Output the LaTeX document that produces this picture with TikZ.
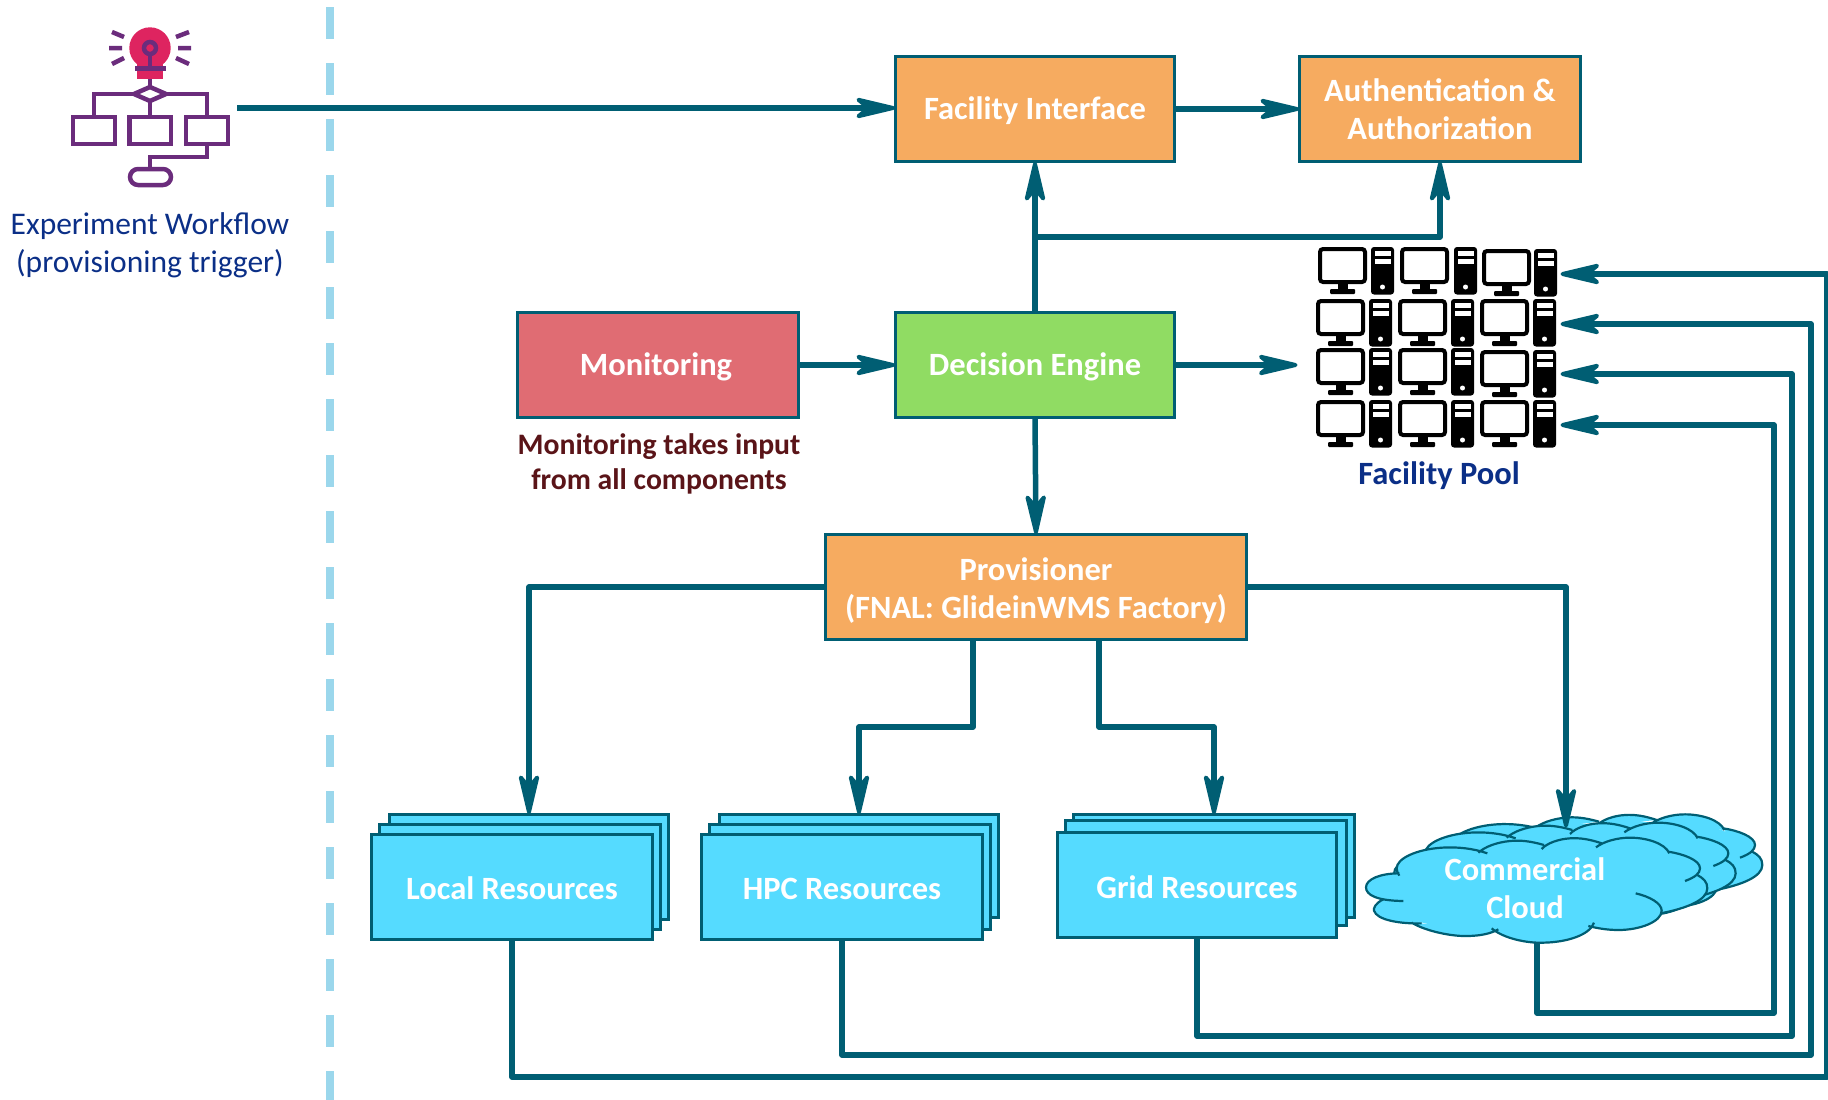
\documentclass[tikz,border=0pt]{standalone}
\usepackage{fontspec}
\setmainfont{Carlito}
\usetikzlibrary{arrows.meta}
\definecolor{teal}{HTML}{005E73}
\definecolor{orangebox}{HTML}{F6AB60}
\definecolor{redbox}{HTML}{E06C73}
\definecolor{greenbox}{HTML}{90DC63}
\definecolor{cyanbox}{HTML}{55DBFF}
\definecolor{navytext}{HTML}{0B2F87}
\definecolor{darkred}{HTML}{5A1418}
\definecolor{dashblue}{HTML}{9BD7EC}
\definecolor{iconpurple}{HTML}{6B2C7C}
\definecolor{iconpink}{HTML}{DE2460}
\newcommand{\labelfont}{\fontsize{32.5}{38}\selectfont\bfseries}
\pgfdeclarearrow{
  name=RefHead,
  setup code={%
    \pgfarrowssettipend{0pt}%
    \pgfarrowssetlineend{-20pt}%
    \pgfarrowssetvisualbackend{-39pt}%
    \pgfarrowssetbackend{-39pt}%
    \pgfarrowsupperhullpoint{0pt}{0pt}%
    \pgfarrowsupperhullpoint{-39pt}{10.5pt}%
  },
  drawing code={%
    \pgfsetcolor{teal}%
    \pgfsetlinewidth{4pt}%
    \pgfsetroundjoin
    \pgfsetmiterlimit{10}%
    \pgfpathmoveto{\pgfpoint{-2.5pt}{0pt}}%
    \pgfpathlineto{\pgfpoint{-37pt}{8.2pt}}%
    \pgfpathlineto{\pgfpoint{-29pt}{1.5pt}}%
    \pgfpathlineto{\pgfpoint{-29pt}{-1.5pt}}%
    \pgfpathlineto{\pgfpoint{-37pt}{-8.2pt}}%
    \pgfpathclose
    \pgfusepathqfillstroke
  },
}
\tikzset{
  boxnode/.style={draw=teal,line width=2.2pt,rectangle,inner sep=0pt,outer sep=0pt},
  boxtext/.style={text=white,font=\labelfont,align=center,inner sep=0pt,yshift=-2pt},
  conn/.style={draw=teal,line width=5.5pt,line join=round},
  arr/.style={conn,-{RefHead}},
  icon/.style={draw=iconpurple,line width=4.5pt,line join=miter},
  lobes/.style={insert path={
    (190,363) .. controls (110,362) and (78,345) .. (78,322) .. controls (78,298) and (120,280) .. (178,280)
    (130,358) .. controls (105,370) and (100,385) .. (102,392) .. controls (110,420) and (180,432) .. (245,430)
    (215,428) .. controls (260,455) and (340,470) .. (385,468) .. controls (420,467) and (450,462) .. (475,448)
    (455,445) .. controls (490,475) and (560,490) .. (610,488) .. controls (680,487) and (750,465) .. (762,428)
    (745,438) .. controls (780,447) and (810,450) .. (835,450) .. controls (900,450) and (965,425) .. (965,392) .. controls (965,370) and (930,350) .. (887,340)
    (962,400) .. controls (1040,385) and (1102,360) .. (1102,325) .. controls (1102,305) and (1090,295) .. (1072,285)
    (1035,303) .. controls (1065,292) and (1080,280) .. (1080,265) .. controls (1080,240) and (1030,222) .. (985,215)
    (988,220) .. controls (975,190) and (920,173) .. (870,173) .. controls (830,173) and (790,185) .. (768,202)
    (785,190) .. controls (750,178) and (720,173) .. (690,175) .. controls (655,177) and (620,190) .. (605,207)
    (612,195) .. controls (570,183) and (540,180) .. (510,183) .. controls (470,187) and (435,200) .. (415,218)
    (442,220) .. controls (400,205) and (350,200) .. (305,203) .. controls (230,208) and (170,235) .. (170,265) .. controls (170,272) and (173,280) .. (178,287)
  }}
}
\newcommand{\rectnode}[6][]{%
  \node[boxnode,#1,minimum width={#5-#3-1},minimum height={#6-#4-1}] (#2) at ({(#3+#5)/2},{(#4+#6)/2}) {};}
\newcommand{\monitor}[2]{%
  \begin{scope}[shift={(#1,#2)}]
    \fill[black] (19.5,36) rectangle (29.5,42);
    \fill[black,rounded corners=1pt] (12,42) rectangle (37,47);
    \draw[black,fill=white,line width=4pt,rounded corners=3pt] (2,2) rectangle (47,35);
  \end{scope}}
\newcommand{\tower}[2]{%
  \begin{scope}[shift={(#1,#2)}]
    \fill[black,rounded corners=3pt] (0,0) rectangle (23,47.5);
    \fill[white] (3.5,3.7) rectangle (19.5,8.7);
    \fill[white] (3.5,12) rectangle (19.5,17);
    \fill[white] (11.5,40) circle (2.5pt);
  \end{scope}}
\newcommand{\cloudlayer}[2]{%
  \begin{scope}[shift={(1340+#1/3,780+#2/3)},x=0.33333pt,y=-0.33333pt]
    \fill[cyanbox] (120,320) -- (130,390) -- (235,425) -- (380,460) -- (465,445) -- (600,480) -- (755,435) -- (830,440) -- (950,395) -- (1090,325) -- (1060,290) -- (1060,265) -- (985,222) -- (870,185) -- (775,200) -- (690,185) -- (608,205) -- (510,195) -- (430,220) -- (305,215) -- (190,260) -- (180,285) -- cycle;
    \fill[cyanbox,lobes];
    \draw[teal,line width=2.2pt,lobes];
  \end{scope}}
\begin{document}
\begin{tikzpicture}[x=1pt,y=-1pt]
\useasboundingbox (0,0) rectangle (1828,1100);
% separator
\draw[dashblue,line width=8pt,dash pattern=on 32pt off 24pt] (330,7) -- (330,1100);
% workflow icon
\fill[iconpink] (150,48) circle (20.7pt);
\fill[iconpink] (137,55) rectangle (163,79);
\draw[icon] (150,48) circle (6pt);
\fill[iconpink] (150,48) circle (2pt);
\draw[icon] (150,54) -- (150,68);
\fill[iconpurple] (135,66) rectangle (166,71);
\draw[icon] (112,32) -- (124,37) (109,48) -- (122,48) (112,64) -- (124,58)
  (189,32) -- (176,37) (178,48) -- (191,48) (176,58) -- (189,64);
\draw[icon] (150,79) -- (150,88) (150,102) -- (150,117);
\draw[icon] (150,87) -- (166,94) -- (150,101) -- (134,94) -- cycle;
\draw[icon] (134,94) -- (94,94) -- (94,117) (166,94) -- (207,94) -- (207,117);
\draw[icon] (73,117) rectangle (115,144);
\draw[icon] (129.5,117) rectangle (171,144);
\draw[icon] (186,117) rectangle (228,144);
\draw[icon] (207,144) -- (207,157) -- (150,157) -- (150,169);
\draw[icon,rounded corners=8pt] (130,169) rectangle (171,185);
\node[inner sep=0pt,text=navytext,font=\fontsize{31.5}{38}\selectfont,align=center] (wf) at (150,245.5) {Experiment Workflow\\(provisioning trigger)};
\coordinate (wfout) at (237,108);
% boxes
\rectnode[fill=orangebox]{fac}{895}{56}{1175}{162}
\rectnode[fill=orangebox]{auth}{1299}{56}{1581}{162}
\rectnode[fill=redbox]{mon}{517}{312}{799}{418}
\rectnode[fill=greenbox]{dec}{895}{312}{1175}{418}
\rectnode[fill=orangebox]{prov}{825}{534}{1247}{640}
\node[boxtext] (factxt) at (fac.center) {Facility Interface};
\node[boxtext,yshift=2.3pt] (authtxt) at (auth.center) {Authentication \&\\Authorization};
\node[boxtext] (montxt) at ([xshift=-2pt]mon.center) {Monitoring};
\node[boxtext] (dectxt) at (dec.center) {Decision Engine};
\node[boxtext,yshift=-1.5pt] (provtxt) at (prov.center) {Provisioner\\(FNAL: GlideinWMS Factory)};
\node[inner sep=0pt,text=darkred,font=\fontsize{29.7}{35}\selectfont\bfseries,align=center] (note) at (659,463.5) {Monitoring takes input\\from all components};
% resources
\rectnode[fill=cyanbox]{localB}{389}{814}{669}{920}
\rectnode[fill=cyanbox]{localM}{379}{824}{661}{930}
\rectnode[fill=cyanbox]{localF}{371}{834}{653}{940}
\rectnode[fill=cyanbox]{hpcB}{719}{814}{999}{918}
\rectnode[fill=cyanbox]{hpcM}{709}{824}{991}{930}
\rectnode[fill=cyanbox]{hpcF}{701}{834}{983}{940}
\rectnode[fill=cyanbox]{gridB}{1073}{814}{1355}{918}
\rectnode[fill=cyanbox]{gridM}{1065}{820}{1347}{926}
\rectnode[fill=cyanbox]{gridF}{1057}{832}{1337}{938}
\node[boxtext,yshift=1pt] (localtxt) at (localF.center) {Local Resources};
\node[boxtext] (hpctxt) at (hpcF.center) {HPC Resources};
\node[boxtext] (gridtxt) at (gridF.center) {Grid Resources};
% cloud
\cloudlayer{165}{-70}
\cloudlayer{85}{-45}
\cloudlayer{0}{0}
\node[inner sep=0pt,outer sep=0pt,minimum width=341pt,minimum height=106pt] (cloud) at (1537,890) {};
\node[boxtext,yshift=1pt] (cloudtxt) at (1525,887) {Commercial\\Cloud};
% pool
\monitor{1318}{247}\tower{1371}{247}\monitor{1400}{247}\tower{1454}{247}\monitor{1482}{249}\tower{1534}{249}
\monitor{1316}{299}\tower{1369}{299}\monitor{1398}{299}\tower{1451}{299}\monitor{1480}{299}\tower{1533}{299}
\monitor{1316}{348}\tower{1369}{348}\monitor{1398}{348}\tower{1451}{348}\monitor{1480}{350}\tower{1533}{350}
\monitor{1316}{400}\tower{1369}{400}\monitor{1398}{400}\tower{1451}{400}\monitor{1480}{400}\tower{1533}{400}
\node[inner sep=0pt,text=navytext,font=\labelfont] (pooltxt) at (1439,475.5) {Facility Pool};
\coordinate (pin0) at (1298,365);
\coordinate (pin1) at (1560,274);
\coordinate (pin2) at (1560,324);
\coordinate (pin3) at (1560,374);
\coordinate (pin4) at (1560,425);
% connectors
\draw[arr] (wfout) -- (wfout -| fac.west);
\draw[arr] (fac.east) -- (auth.west);
\draw[arr] (mon.east) -- (dec.west);
\draw[arr] (dec.east) -- (pin0);
\draw[arr] (dec.north) -- (fac.south);
\coordinate (branch) at (1035,237);
\draw[arr] (branch) -| (auth.south);
\draw[arr] (dec.south) -- (prov.north);
\coordinate (cloudtip) at (1566,828);
\coordinate (provA) at (973,640);
\coordinate (provB) at (1099,640);
\coordinate (hpcTurn) at (859,727);
\coordinate (gridTurn) at (1214,727);
\draw[arr] (prov.west) -| (localB.north);
\draw[arr] (prov.east) -| (cloudtip);
\draw[arr] (provA) |- (hpcTurn) -- (hpcB.north);
\draw[arr] (provB) |- (gridTurn) -- (gridB.north);
\coordinate (c1) at (1774,1013);
\coordinate (c2) at (1792,1036);
\coordinate (c3) at (1811,1055);
\coordinate (c4) at (1827,1077);
\draw[arr] (cloud.south) |- (c1) |- (pin4);
\draw[arr] (gridF.south) |- (c2) |- (pin3);
\draw[arr] (hpcF.south) |- (c3) |- (pin2);
\draw[arr] (localF.south) |- (c4) |- (pin1);
\end{tikzpicture}
\end{document}
